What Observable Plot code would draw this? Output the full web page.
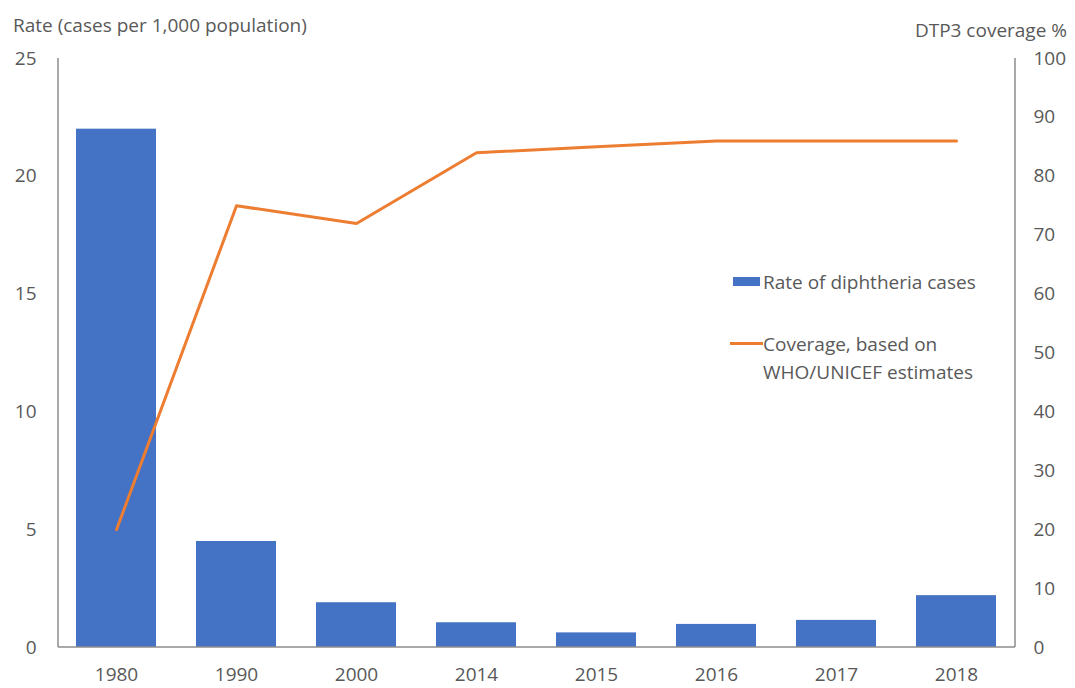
<!DOCTYPE html>
<html><head><meta charset="utf-8">
<script src="https://cdn.jsdelivr.net/npm/d3@7"></script>
<script src="https://cdn.jsdelivr.net/npm/@observablehq/plot@0.6"></script>
<style>
body{margin:0;background:#fff;font-family:"Open Sans",sans-serif;color:#595959;}
#wrap{position:relative;width:1075px;height:688px;}
#head{position:relative;height:45px;}
.t{position:absolute;font-size:19px;white-space:nowrap;line-height:24px;}
.leg{position:absolute;font-size:19px;line-height:28px;white-space:nowrap;}
</style></head>
<body>
<div id="wrap">
  <div id="head">
    <div class="t" id="tl" style="left:13px;top:13px;">Rate (cases per 1,000 population)</div>
    <div class="t" id="tr" style="right:8px;top:18px;">DTP3 coverage %</div>
  </div>
  <div id="chart"></div>
  <div id="legend"></div>
</div>
<script>
const years = ["1980","1990","2000","2014","2015","2016","2017","2018"];
const rates = [22, 4.5, 1.9, 1.05, 0.62, 0.98, 1.15, 2.2];
const coverage = [20, 75, 72, 84, 85, 86, 86, 86];
const leftTicks = [0, 5, 10, 15, 20, 25];
const rightTicks = [0, 10, 20, 30, 40, 50, 60, 70, 80, 90, 100];
const seriesNames = ["Rate of diphtheria cases", ["Coverage, based on", "WHO/UNICEF estimates"]];
const colors = {bar: "#4472C4", line: "#ED7D31", axis: "#8c8c8c", text: "#595959"};

const ratio = 25 / 100;
const data = years.map((y, i) => ({year: y, rate: rates[i], cov: coverage[i] * ratio}));

const axisLines = (index, scales, values, dims) => {
  const g = d3.create("svg:g").attr("stroke", colors.axis).attr("stroke-width", 1.5);
  const l = dims.marginLeft, r = dims.width - dims.marginRight;
  const t = scales.y(25), b = scales.y(0);
  g.append("line").attr("x1", l).attr("x2", l).attr("y1", t).attr("y2", b);
  g.append("line").attr("x1", r).attr("x2", r).attr("y1", t).attr("y2", b);
  g.append("line").attr("x1", l).attr("x2", r).attr("y1", b).attr("y2", b);
  return g.node();
};

const chart = Plot.plot({
  width: 1075,
  height: 643,
  marginLeft: 58,
  marginRight: 60,
  marginTop: 13,
  marginBottom: 41,
  style: {fontFamily: "Open Sans, sans-serif", fontSize: "19px", color: colors.text, background: "#fff", overflow: "visible"},
  x: {domain: years, paddingInner: 0.33, paddingOuter: 0.15, label: null},
  y: {domain: [0, 25], label: null},
  marks: [
    Plot.barY(data, {x: "year", y: "rate", fill: colors.bar}),
    Plot.line(data, {x: "year", y: "cov", stroke: colors.line, strokeWidth: 3}),
    axisLines,
    Plot.axisX({tickSize: 0, tickPadding: 20, label: null, fill: colors.text}),
    Plot.axisY({anchor: "left", ticks: leftTicks, tickSize: 0, tickPadding: 22, label: null, fill: colors.text}),
    Plot.axisY({anchor: "right", ticks: rightTicks.map(v => v * ratio), tickFormat: d => Math.round(d / ratio), tickSize: 0, tickPadding: 18, label: null, fill: colors.text, textAnchor: "start"})
  ]
});
document.getElementById("chart").appendChild(chart);

const leg = document.getElementById("legend");
leg.innerHTML = `
  <div class="leg" style="left:733px;top:268px;"><span style="display:inline-block;width:27px;height:9px;background:${colors.bar};vertical-align:middle;margin-right:3px;position:relative;top:-2px;"></span>${seriesNames[0]}</div>
  <div class="leg" style="left:730px;top:330px;"><span style="display:inline-block;width:33px;height:3px;background:${colors.line};vertical-align:middle;position:relative;top:-2px;"></span>${seriesNames[1][0]}<br><span style="margin-left:33px;">${seriesNames[1][1]}</span></div>
`;
</script>
</body></html>
